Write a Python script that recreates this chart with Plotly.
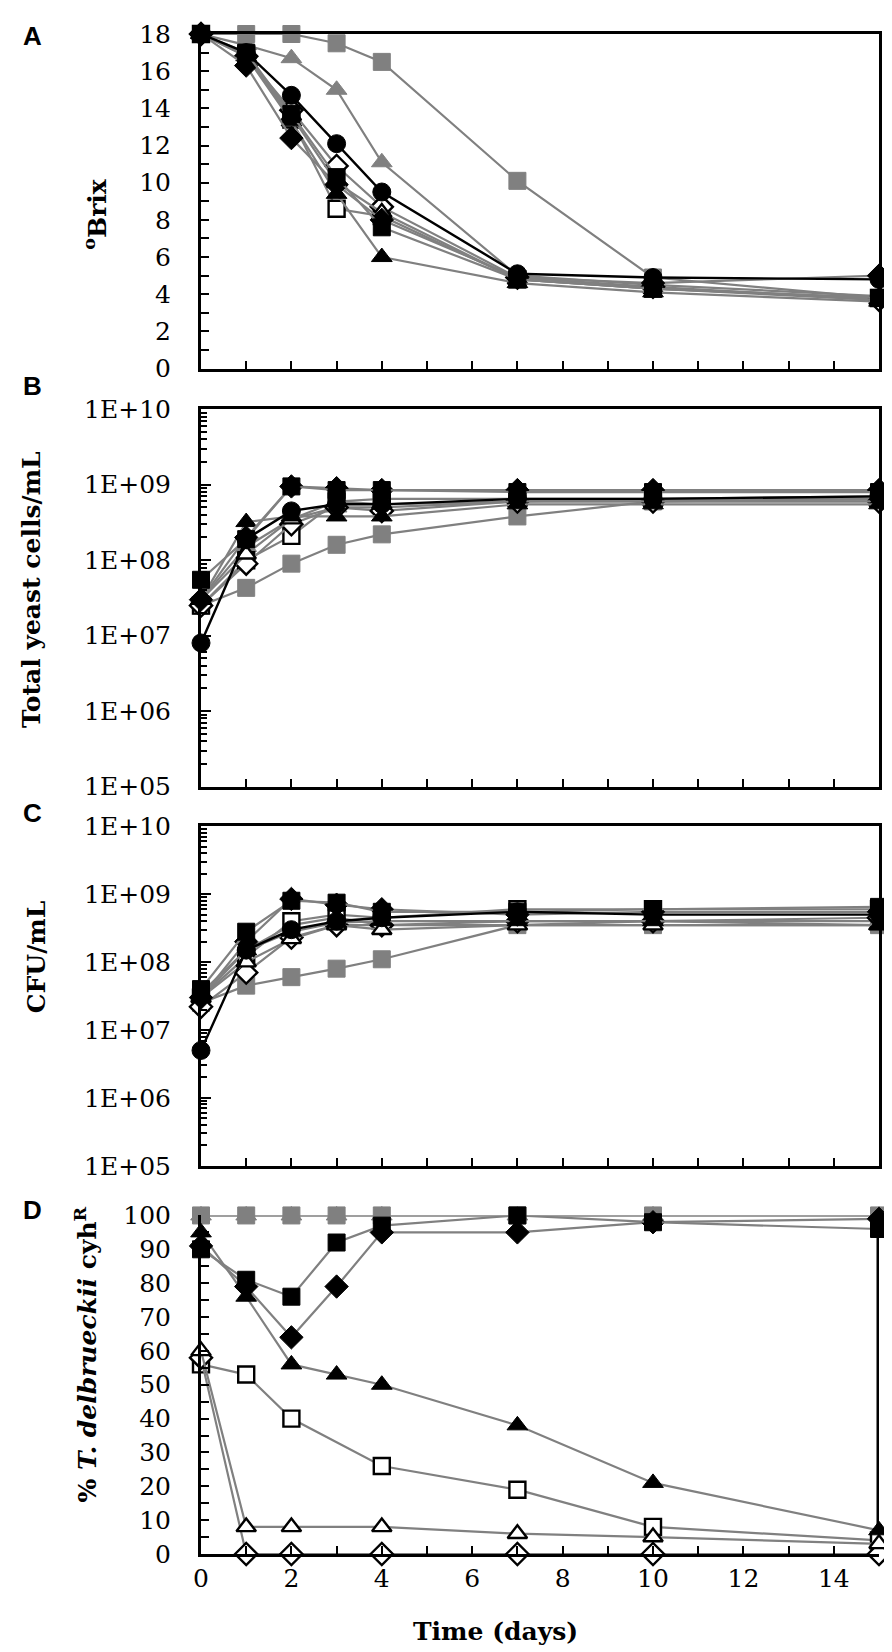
import plotly.graph_objects as go

days = [0, 1, 2, 3, 4, 7, 10, 15]

# ---- Panel A: degrees Brix ----
a_circle_blk = [18, 17.0, 14.7, 12.1, 9.5, 5.1, 4.9, 4.8]
a_sq_gray = [18, 18, 18, 17.5, 16.5, 10.1, 4.9, 3.8]
a_tri_gray = [18, 17.4, 16.7, 15.0, 11.1, 5.0, 4.5, 3.9]
a_dia_blk = [18, 16.3, 12.4, 9.9, 8.0, 4.9, 4.6, 5.0]
a_sq_open = [18, 16.9, 13.4, 8.6, 8.2, 4.8, 4.3, 3.8]
a_dia_open = [18, 16.8, 13.9, 10.9, 8.7, 4.9, 4.4, 3.7]
a_tri_blk = [18, 16.8, 13.3, 9.4, 6.0, 4.6, 4.1, 3.6]
a_sq_blk = [18, 17.0, 13.7, 10.3, 7.6, 4.8, 4.3, 3.8]
a_tri_open = [18, 16.9, 13.6, 10.0, 8.4, 4.8, 4.3, 3.7]

# ---- Panel B: total yeast cells/mL ----
b_circle_blk = [8e6, 1.9e8, 4.5e8, 5.5e8, 5.5e8, 6.5e8, 6.5e8, 7e8]
b_sq_gray = [2.5e7, 4.3e7, 9e7, 1.6e8, 2.2e8, 3.8e8, 6e8, 6.5e8]
b_tri_gray = [3e7, 1.5e8, 3.5e8, 5e8, 5e8, 6e8, 6.5e8, 7e8]
b_dia_blk = [3e7, 2e8, 9.5e8, 9e8, 8.5e8, 8.5e8, 8.5e8, 8.5e8]
b_sq_open = [2.5e7, 1e8, 2.1e8, 6e8, 6.5e8, 6.5e8, 6.5e8, 6.5e8]
b_dia_open = [2.5e7, 9e7, 3e8, 5e8, 4.5e8, 6e8, 6e8, 6e8]
b_tri_blk = [3e7, 3.2e8, 3.8e8, 3.8e8, 3.8e8, 5.5e8, 5.5e8, 5.5e8]
b_sq_blk = [5.5e7, 1.9e8, 9.5e8, 8.5e8, 8.5e8, 8e8, 8e8, 8e8]
b_tri_open = [3e7, 1.2e8, 3.5e8, 6e8, 5.5e8, 6e8, 6e8, 6e8]

# ---- Panel C: CFU/mL ----
c_circle_blk = [5e6, 1.5e8, 3e8, 4e8, 4.5e8, 5.5e8, 5e8, 5e8]
c_sq_gray = [2.5e7, 4.5e7, 6e7, 8e7, 1.1e8, 3.5e8, 3.5e8, 3.5e8]
c_tri_gray = [3e7, 1.5e8, 3.5e8, 4.5e8, 3.5e8, 3.5e8, 4e8, 4e8]
c_dia_blk = [3e7, 2e8, 8.5e8, 7e8, 6e8, 5e8, 5.5e8, 5.5e8]
c_sq_open = [3e7, 1.2e8, 4e8, 5e8, 4.5e8, 6e8, 6e8, 6e8]
c_dia_open = [2.2e7, 7e7, 2.3e8, 3.5e8, 3.5e8, 4e8, 4e8, 4.5e8]
c_tri_blk = [3.5e7, 1.5e8, 2.8e8, 3.8e8, 4e8, 4e8, 4e8, 3.5e8]
c_sq_blk = [4e7, 2.8e8, 8e8, 7.5e8, 5.5e8, 5.5e8, 6e8, 6.5e8]
c_tri_open = [3e7, 1e8, 2.2e8, 3.5e8, 3e8, 3.5e8, 3.5e8, 3.5e8]

# ---- Panel D: % T. delbrueckii cyhR ----
d_sq_gray = [100, 100, 100, 100, 100, 100, 100, 100]
d_tri_gray = [100, 100, 100, 100, 100, 100, 100, 100]
d_sq_blk = [90, 81, 76, 92, 97, 100, 98, 96]
d_dia_blk = [91, 79, 64, 79, 95, 95, 98, 99]
d_tri_blk = [95, 76, 56, 53, 50, 38, 21, 7]
d_sq_open = [56, 53, 40, None, 26, 19, 8, 4]
d_tri_open = [60, 8, 8, None, 8, 6, 5, 3]
d_dia_open = [58, 0, 0, None, 0, 0, 0, 0]
d_vline_x = [15, 15]
d_vline_y = [0, 96]

GRAY = "#808080"
STYLE = {
    "sq_gray": dict(symbol="square", fill=GRAY, edge=GRAY, line=GRAY, size=17),
    "tri_gray": dict(symbol="triangle-up", fill=GRAY, edge=GRAY, line=GRAY, size=18),
    "sq_open": dict(symbol="square", fill="white", edge="black", line=GRAY, size=16),
    "dia_open": dict(symbol="diamond", fill="white", edge="black", line=GRAY, size=17),
    "tri_open": dict(symbol="triangle-up", fill="white", edge="black", line=GRAY, size=17),
    "tri_blk": dict(symbol="triangle-up", fill="black", edge="black", line=GRAY, size=18),
    "dia_blk": dict(symbol="diamond", fill="black", edge="black", line=GRAY, size=18),
    "sq_blk": dict(symbol="square", fill="black", edge="black", line=GRAY, size=17),
    "circle_blk": dict(symbol="circle", fill="black", edge="black", line="black", size=18),
}

panels = [
    ("1", {"sq_gray": a_sq_gray, "tri_gray": a_tri_gray, "sq_open": a_sq_open,
           "dia_open": a_dia_open, "tri_open": a_tri_open, "tri_blk": a_tri_blk,
           "dia_blk": a_dia_blk, "sq_blk": a_sq_blk, "circle_blk": a_circle_blk}),
    ("2", {"sq_gray": b_sq_gray, "tri_gray": b_tri_gray, "sq_open": b_sq_open,
           "dia_open": b_dia_open, "tri_open": b_tri_open, "tri_blk": b_tri_blk,
           "dia_blk": b_dia_blk, "sq_blk": b_sq_blk, "circle_blk": b_circle_blk}),
    ("3", {"sq_gray": c_sq_gray, "tri_gray": c_tri_gray, "sq_open": c_sq_open,
           "dia_open": c_dia_open, "tri_open": c_tri_open, "tri_blk": c_tri_blk,
           "dia_blk": c_dia_blk, "sq_blk": c_sq_blk, "circle_blk": c_circle_blk}),
    ("4", {"sq_gray": d_sq_gray, "tri_gray": d_tri_gray, "sq_open": d_sq_open,
           "dia_open": d_dia_open, "tri_open": d_tri_open, "tri_blk": d_tri_blk,
           "dia_blk": d_dia_blk, "sq_blk": d_sq_blk}),
]

fig = go.Figure()

# thick black vertical line at the end of panel D
fig.add_trace(go.Scatter(x=d_vline_x, y=d_vline_y, xaxis="x4", yaxis="y4", mode="lines",
                         cliponaxis=False, showlegend=False,
                         line=dict(color="black", width=5)))

for idx, series in panels:
    xa = "x" if idx == "1" else "x" + idx
    ya = "y" if idx == "1" else "y" + idx
    for key, vals in series.items():
        st = STYLE[key]
        fig.add_trace(go.Scatter(
            x=days, y=vals, xaxis=xa, yaxis=ya, mode="lines+markers",
            connectgaps=True, cliponaxis=False, showlegend=False,
            line=dict(color=st["line"], width=2.4 if key == "circle_blk" else 2.2),
            marker=dict(symbol=st["symbol"], size=st["size"], color=st["fill"],
                        line=dict(color=st["edge"], width=2.4 if st["fill"] == "white" else 1)),
        ))

W, H = 892, 1652
ML, MR, MT, MB = 193, 21, 15, 106
PH = H - MT - MB


def ydom(top_px, bot_px):
    return [(H - MB - bot_px) / PH, (H - MB - top_px) / PH]


def py(p):
    return (H - MB - p) / PH


def px(p):
    return (p - ML) / (W - ML - MR)


A_dom = ydom(15, 352)
B_dom = ydom(393, 773)
C_dom = ydom(813, 1155)
D_dom = ydom(1205, 1546)

tickfont = dict(family="DejaVu Serif", size=25, color="black")
axis_common = dict(showline=True, linecolor="black", linewidth=3, ticks="inside",
                   tickcolor="black", tickwidth=2, showgrid=False, zeroline=False,
                   tickfont=tickfont)

log_minor = [k * 10 ** e for e in range(5, 10) for k in range(2, 10)]
log_major = [1e5, 1e6, 1e7, 1e8, 1e9, 1e10]
log_text = ["1E+05", "1E+06", "1E+07", "1E+08", "1E+09", "1E+10"]

xbase = dict(axis_common, range=[0, 15], dtick=2, tick0=0, ticklen=8,
             minor=dict(dtick=1, ticks="inside", ticklen=8, tickcolor="black", tickwidth=2))

fig.update_layout(
    width=W, height=H, margin=dict(l=ML, r=MR, t=MT, b=MB),
    paper_bgcolor="white", plot_bgcolor="white",
    xaxis=dict(xbase, anchor="y", mirror=True, showticklabels=False),
    xaxis2=dict(xbase, anchor="y2", mirror=True, showticklabels=False),
    xaxis3=dict(xbase, anchor="y3", mirror=True, showticklabels=False),
    xaxis4=dict(xbase, anchor="y4", mirror=False, showticklabels=True),
    yaxis=dict(axis_common, domain=A_dom, anchor="x", range=[0, 18], dtick=2, mirror=True,
               ticklen=8, ticklabelstandoff=22,
               minor=dict(dtick=1, ticks="inside", ticklen=8, tickcolor="black", tickwidth=2)),
    yaxis2=dict(axis_common, domain=B_dom, anchor="x2", type="log", range=[5, 10], mirror=True,
                tickvals=log_major, ticktext=log_text, ticklen=10, ticklabelstandoff=22,
                minor=dict(tickvals=log_minor, ticks="inside", ticklen=6, tickcolor="black", tickwidth=1.5)),
    yaxis3=dict(axis_common, domain=C_dom, anchor="x3", type="log", range=[5, 10], mirror=True,
                tickvals=log_major, ticktext=log_text, ticklen=10, ticklabelstandoff=22,
                minor=dict(tickvals=log_minor, ticks="inside", ticklen=6, tickcolor="black", tickwidth=1.5)),
    yaxis4=dict(axis_common, domain=D_dom, anchor="x4", range=[0, 100], dtick=10, mirror=False,
                ticklen=8, ticklabelstandoff=22,
                minor=dict(dtick=5, ticks="inside", ticklen=8, tickcolor="black", tickwidth=2)),
)

title_font = dict(family="DejaVu Serif", size=25, color="black")
letter_font = dict(family="Liberation Sans", size=26, color="black")

ann = []
ann.append(dict(text="<b><sup>o</sup>Brix</b>", x=px(88), y=py(197), textangle=-90))
ann.append(dict(text="<b>Total yeast cells/mL</b>", x=px(24), y=py(575), textangle=-90))
ann.append(dict(text="<b>CFU/mL</b>", x=px(28), y=py(945), textangle=-90))
ann.append(dict(text="<b>% <i>T. delbrueckii</i> cyh<sup>R</sup></b>", x=px(78), y=py(1345), textangle=-90))
ann.append(dict(text="<b>Time (days)</b>", x=px(487), y=py(1624), textangle=0))
for a in ann:
    a.update(xref="paper", yref="paper", showarrow=False, font=title_font,
             xanchor="center", yanchor="middle")

letters = [("A", 17), ("B", 370), ("C", 800), ("D", 1200)]
for t, yy in letters:
    ann.append(dict(text="<b>%s</b>" % t, x=px(24), y=py(yy), xref="paper", yref="paper",
                    showarrow=False, font=letter_font, xanchor="center", yanchor="middle"))

fig.update_layout(annotations=ann)
fig.write_html("out.html")
